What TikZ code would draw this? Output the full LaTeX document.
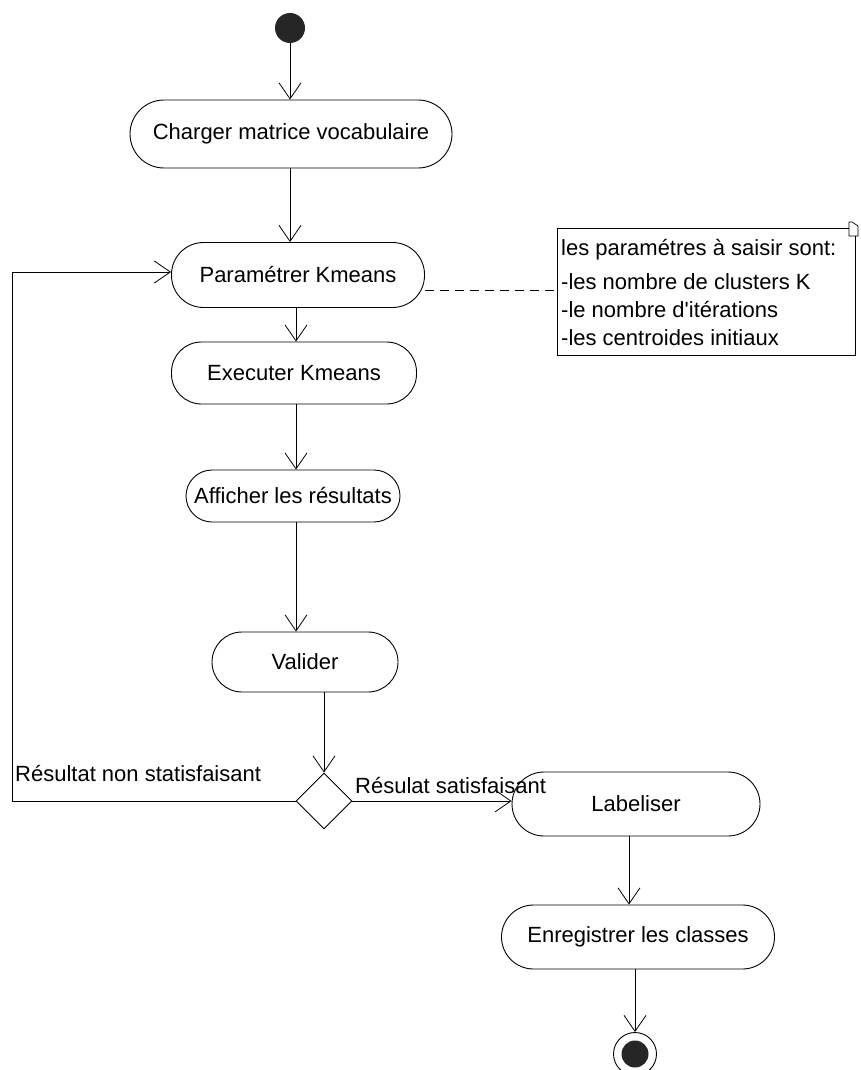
\documentclass[tikz,border=0pt]{standalone}
\usepackage{fontspec}
\setmainfont{Liberation Sans}
\usetikzlibrary{arrows.meta,shapes.geometric}
\begin{document}
\begin{tikzpicture}[x=1pt,y=-1pt,
  font=\fontsize{22}{26}\selectfont,
  action/.style={draw,line width=0.9pt,rounded corners=#1,inner sep=0pt},
  flow/.style={draw,line width=0.9pt,-{Straight Barb[length=16pt,width=22pt,line width=0.8pt]}},
  decision/.style={draw,line width=0.9pt,diamond,minimum width=56pt,minimum height=56pt,inner sep=0pt},
  lbl/.style={inner sep=0pt,anchor=base west}]
\useasboundingbox (0,0) rectangle (861,1070);

% initial and final states
\node[circle,fill=black!85,minimum size=30pt,inner sep=0pt] (start) at (290,28) {};
\node[circle,draw,line width=0.9pt,minimum size=43pt,inner sep=0pt] (stop) at (635,1054) {};
\node[circle,fill=black!85,minimum size=27pt,inner sep=0pt] at (stop) {};

% activities
\node[action=34pt,minimum width=322pt,minimum height=68pt] (charger) at (291,134) {Charger matrice vocabulaire};
\node[action=32pt,minimum width=253pt,minimum height=65pt] (param) at (298,275) {Paramétrer Kmeans};
\node[action=30pt,minimum width=245pt,minimum height=62pt] (exec) at (294,373) {Executer Kmeans};
\node[action=26pt,minimum width=214pt,minimum height=52pt] (affich) at (293,496) {Afficher les résultats};
\node[action=30pt,minimum width=186pt,minimum height=60pt] (valider) at (305,662) {Valider};
\node[decision] (dec) at (324,801) {};
\node[action=32pt,minimum width=248pt,minimum height=64pt] (label) at (636,804) {Labeliser};
\node[action=32pt,minimum width=273pt,minimum height=64pt] (enreg) at (638,937) {Enregistrer les classes};

% note with its folded corner
\coordinate (nw) at (557,228);
\coordinate (se) at (855,355);
\draw[line width=0.9pt] (849,228) -- (nw) -- (557,355) -- (se) -- (855,236);
\draw[line width=0.7pt] (849,222) -- (849,236) -- (858,236) -- (858,226) -- (852,222) -- cycle;
\coordinate (note) at (557,290);
\node[lbl] (n1) at (561,255) {les paramétres à saisir sont:};
\node[lbl] (n2) at (561,289) {-les nombre de clusters K};
\node[lbl] (n3) at (561,317) {-le nombre d\textquotesingle itérations};
\node[lbl] (n4) at (561,345) {-les centroides initiaux};
\draw[dashed,line width=0.8pt,dash pattern=on 9pt off 6pt] (param.east |- note) -- (note);

% flows
\draw[flow] (start) -- (charger.north -| start);
\draw[flow] (charger.south -| start) -- (param.north -| start);
\draw[flow] (param.south -| 296,0) -- (exec.north -| 296,0);
\draw[flow] (exec.south -| 296,0) -- (affich.north -| 296,0);
\draw[flow] (affich.south -| 296,0) -- (valider.north -| 296,0);
\draw[flow] (valider.south -| dec) -- (dec.north);
\draw[flow] (dec.west) -- (12,801) -- (12,272) -- (param.west |- 0,272);
\draw[flow] (dec.east) -- (label.west |- dec);
\draw[flow] (label.south -| 629,0) -- (enreg.north -| 629,0);
\draw[flow] (enreg.south -| stop) -- (stop.north);

% guards
\node[lbl] (g1) at (15,781) {Résultat non statisfaisant};
\node[lbl] (g2) at (355,793) {Résulat satisfaisant};
\end{tikzpicture}
\end{document}
